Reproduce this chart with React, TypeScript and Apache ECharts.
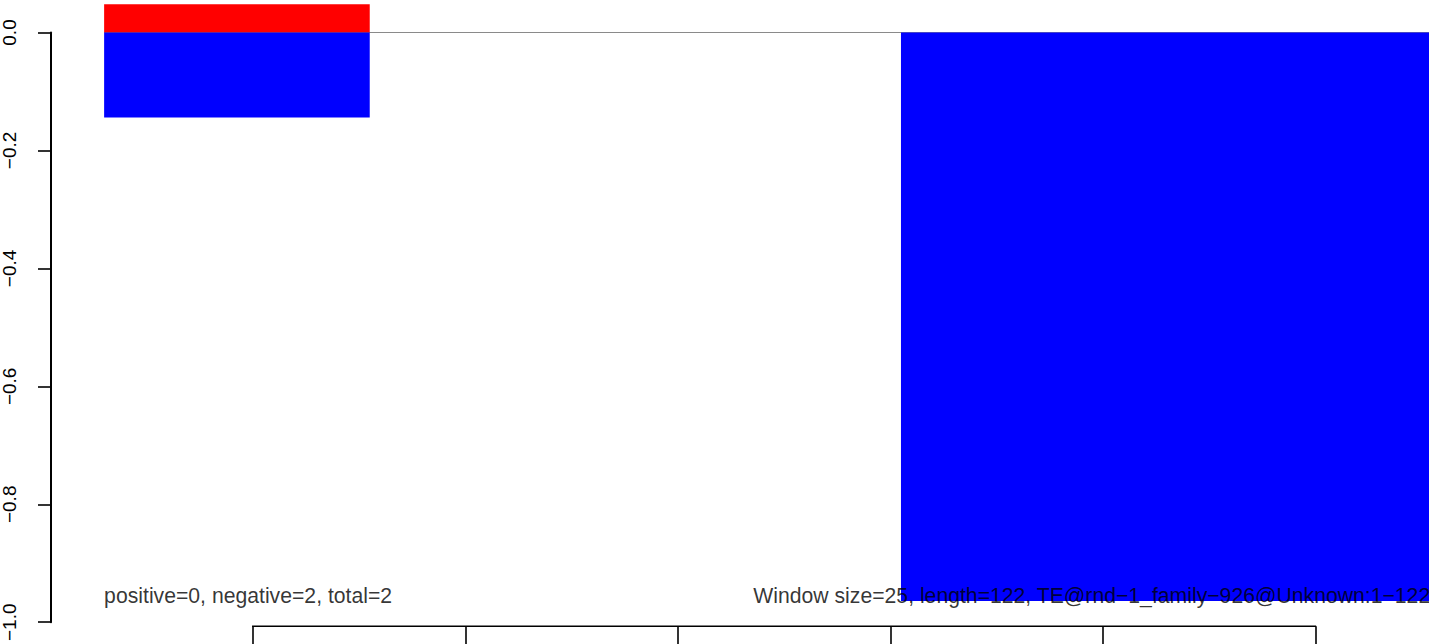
import React, { useEffect, useRef } from "react";
import * as echarts from "echarts";

// Window bars (x extents in window coordinates)
const barStarts = [6, 81];
const barEnds = [31, 131];
const positiveValues = [0.048, 0];
const negativeValues = [-0.144, -0.964];

// Axis ticks
const xTicks = [20, 40, 60, 80, 100, 120];
const yRange = [-1, 0];
const xRange = [1, 130.7];

// Zero reference line extent
const zeroLineX = [6, 131];

// Annotations
const leftNote = "positive=0, negative=2, total=2";
const rightNote = "Window size=25, length=122, TE@rnd\u22121_family\u2212926@Unknown:1\u2212122";
const notePositions = [
  [6, -0.955],
  [67.1, -0.955],
];

const FONT = '"Liberation Sans", Arial, Helvetica, sans-serif';

function fmtY(v: number) {
  if (Math.abs(v) < 1e-9) return "0.0";
  return (v < 0 ? "\u2212" : "") + Math.abs(v).toFixed(1);
}

export default function App() {
  const ref = useRef<HTMLDivElement>(null);
  useEffect(() => {
    if (!ref.current) return;
    const chart = echarts.init(ref.current, undefined, { renderer: "svg" });
    const posData = barStarts.map((s, i) => [s, barEnds[i], positiveValues[i]]);
    const negData = barStarts.map((s, i) => [s, barEnds[i], negativeValues[i]]);
    const makeRender = (color: string) => (params: any, api: any) => {
      const x0 = api.value(0);
      const x1 = api.value(1);
      const v = api.value(2);
      if (!v) return null;
      const p0 = api.coord([x0, 0]);
      const p1 = api.coord([x1, v]);
      return {
        type: "rect",
        shape: {
          x: p0[0],
          y: Math.min(p0[1], p1[1]),
          width: p1[0] - p0[0],
          height: Math.abs(p1[1] - p0[1]),
        },
        style: { fill: color },
      };
    };
    chart.setOption({
      animation: false,
      grid: { left: 51, right: 0, top: 32.5, height: 590.2 },
      xAxis: {
        type: "value",
        min: xRange[0],
        max: xRange[1],
        offset: 4,
        axisLine: { show: false, onZero: false },
        splitLine: { show: false },
        axisLabel: { show: false },
        axisTick: {
          show: true,
          length: 20,
          customValues: xTicks,
          lineStyle: { color: "#000", width: 1.6 },
        },
      },
      yAxis: {
        type: "value",
        min: yRange[0],
        max: yRange[1],
        interval: 0.2,
        splitLine: { show: false },
        axisLine: { show: true, onZero: false, lineStyle: { color: "#000", width: 2 } },
        axisTick: { show: true, length: 13, lineStyle: { color: "#000", width: 1.6 } },
        axisLabel: {
          rotate: 90,
          margin: 32,
          fontSize: 19,
          fontFamily: FONT,
          color: "#000",
          formatter: (v: number) => fmtY(v),
        },
      },
      series: [
        {
          type: "line",
          data: zeroLineX.map((x) => [x, 0]),
          symbol: "none",
          lineStyle: { color: "#8a8a8a", width: 1 },
          z: 1,
          silent: true,
        },
        {
          type: "custom",
          renderItem: makeRender("#ff0000"),
          data: posData,
          encode: { x: [0, 1], y: 2 },
          clip: false,
          z: 2,
        },
        {
          type: "custom",
          renderItem: makeRender("#0000ff"),
          data: negData,
          encode: { x: [0, 1], y: 2 },
          clip: false,
          z: 2,
        },
        {
          type: "scatter",
          data: notePositions,
          symbolSize: 0,
          z: 5,
          label: {
            show: true,
            position: "right",
            distance: 0,
            color: "#000",
            fontSize: 21.2,
            fontFamily: FONT,
            formatter: (p: any) => (p.dataIndex === 0 ? leftNote : rightNote),
          },
        },
      ],
    });
    // R-style x-axis line spanning first to last tick
    const pA = chart.convertToPixel({ gridIndex: 0 }, [xTicks[0], yRange[0]]);
    const pB = chart.convertToPixel({ gridIndex: 0 }, [xTicks[xTicks.length - 1], yRange[0]]);
    if (pA && pB) {
      const yLine = pA[1] + 4;
      chart.setOption({
        graphic: [
          {
            type: "rect",
            shape: { x: pA[0] - 0.8, y: yLine - 0.8, width: pB[0] - pA[0] + 1.6, height: 1.6 },
            style: { fill: "#000" },
            z: 10,
          },
        ],
      });
    }
    return () => chart.dispose();
  }, []);
  return (
    <div
      ref={ref}
      style={{ position: "fixed", left: 0, top: 0, width: 1429, height: 644, background: "#fff" }}
    />
  );
}
